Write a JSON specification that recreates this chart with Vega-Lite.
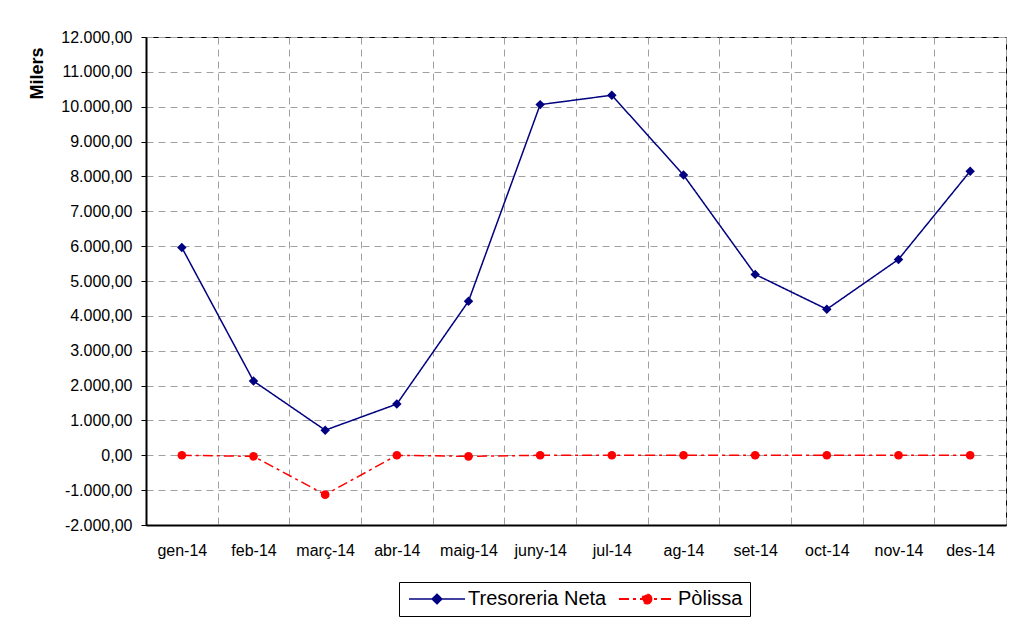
{
  "$schema": "https://vega.github.io/schema/vega-lite/v6.json",
  "width": 860,
  "height": 488,
  "autosize": {"type": "none"},
  "padding": {"left": 146, "top": 37, "right": 28, "bottom": 92},
  "background": "white",
  "config": {
    "font": "Liberation Sans",
    "locale": {"number": {"decimal": ",", "thousands": ".", "grouping": [3], "currency": ["", " €"], "minus": "-"}},
    "view": {"stroke": "#000000", "strokeWidth": 1},
    "axis": {"labelFont": "Liberation Sans", "labelColor": "#000000", "labelFontSize": 16, "gridColor": "#a0a0a0", "gridDash": [7, 5], "gridWidth": 1, "gridOpacity": 1, "domainColor": "#000000", "domainWidth": 2, "tickColor": "#000000"}
  },
  "data": {
    "values": [
      {"mes": "gen-14", "serie": "Tresoreria Neta", "valor": 5960},
      {"mes": "feb-14", "serie": "Tresoreria Neta", "valor": 2130},
      {"mes": "març-14", "serie": "Tresoreria Neta", "valor": 720},
      {"mes": "abr-14", "serie": "Tresoreria Neta", "valor": 1470},
      {"mes": "maig-14", "serie": "Tresoreria Neta", "valor": 4420},
      {"mes": "juny-14", "serie": "Tresoreria Neta", "valor": 10060},
      {"mes": "jul-14", "serie": "Tresoreria Neta", "valor": 10330},
      {"mes": "ag-14", "serie": "Tresoreria Neta", "valor": 8040},
      {"mes": "set-14", "serie": "Tresoreria Neta", "valor": 5190},
      {"mes": "oct-14", "serie": "Tresoreria Neta", "valor": 4190},
      {"mes": "nov-14", "serie": "Tresoreria Neta", "valor": 5620},
      {"mes": "des-14", "serie": "Tresoreria Neta", "valor": 8150},
      {"mes": "gen-14", "serie": "Pòlissa", "valor": 0},
      {"mes": "feb-14", "serie": "Pòlissa", "valor": -30},
      {"mes": "març-14", "serie": "Pòlissa", "valor": -1130},
      {"mes": "abr-14", "serie": "Pòlissa", "valor": 0},
      {"mes": "maig-14", "serie": "Pòlissa", "valor": -30},
      {"mes": "juny-14", "serie": "Pòlissa", "valor": 0},
      {"mes": "jul-14", "serie": "Pòlissa", "valor": 0},
      {"mes": "ag-14", "serie": "Pòlissa", "valor": 0},
      {"mes": "set-14", "serie": "Pòlissa", "valor": 0},
      {"mes": "oct-14", "serie": "Pòlissa", "valor": 0},
      {"mes": "nov-14", "serie": "Pòlissa", "valor": 0},
      {"mes": "des-14", "serie": "Pòlissa", "valor": 0}
    ]
  },
  "encoding": {
    "x": {
      "field": "mes", "type": "nominal", "sort": null,
      "scale": {"type": "band", "paddingInner": 0, "paddingOuter": 0},
      "axis": {"title": null, "labelAngle": 0, "tickBand": "extent", "ticks": false, "labelPadding": 17, "grid": true, "domainWidth": 2}
    },
    "y": {
      "field": "valor", "type": "quantitative",
      "scale": {"domain": [-2000, 12000], "nice": false, "zero": false},
      "axis": {"title": "Milers", "titleFontSize": 18, "titleFontWeight": "bold", "titleColor": "#000000", "titleFont": "Liberation Sans", "titleAnchor": null, "titleX": -109, "titleY": 36, "titleAlign": "center", "titleBaseline": "middle", "values": [-2000, -1000, 0, 1000, 2000, 3000, 4000, 5000, 6000, 7000, 8000, 9000, 10000, 11000, 12000], "format": ",.2f", "tickSize": 5, "labelPadding": 9, "grid": true}
    },
    "color": {
      "field": "serie", "type": "nominal",
      "scale": {"domain": ["Tresoreria Neta", "Pòlissa"], "range": ["#000080", "#ff0000"]},
      "legend": {
        "title": null, "orient": "none", "legendX": 253, "legendY": 545, "direction": "horizontal",
        "fillColor": "#ffffff", "strokeColor": "#000000", "padding": 7,
        "labelFontSize": 20, "labelColor": "#000000", "labelFont": "Liberation Sans", "labelOffset": 21,
        "columnPadding": 7, "symbolSize": 144, "symbolStrokeWidth": 1.5, "symbolOffset": 21,
        "symbolType": "M-4.67,0L4.67,0M0,-0.8L0.8,0L0,0.8L-0.8,0Z",
        "encode": {
          "symbols": {
            "update": {
              "shape": {"signal": "datum.value === 'Pòlissa' ? 'M-4.67,0L4.67,0M0.75,0A0.75,0.75,0,1,1,-0.75,0A0.75,0.75,0,1,1,0.75,0Z' : 'M-4.67,0L4.67,0M0,-0.8L0.8,0L0,0.8L-0.8,0Z'"},
              "fill": {"signal": "datum.value === 'Pòlissa' ? '#ff0000' : '#000080'"},
              "stroke": {"signal": "datum.value === 'Pòlissa' ? '#ff0000' : '#000080'"},
              "strokeDash": {"signal": "datum.value === 'Pòlissa' ? [8,4,3,4] : [1,0]"},
              "strokeWidth": {"signal": "datum.value === 'Pòlissa' ? 2 : 1.5"},
              "opacity": {"value": 1},
              "fillOpacity": {"value": 1}
            }
          }
        }
      }
    }
  },
  "layer": [
    {
      "mark": {"type": "line", "strokeWidth": 1.5},
      "encoding": {
        "strokeDash": {"field": "serie", "type": "nominal", "scale": {"domain": ["Tresoreria Neta", "Pòlissa"], "range": [[1, 0], [10, 4, 3, 4]]}, "legend": null},
        "strokeWidth": {"field": "serie", "type": "nominal", "scale": {"domain": ["Tresoreria Neta", "Pòlissa"], "range": [1.5, 2]}, "legend": null}
      }
    },
    {
      "transform": [{"filter": "datum.serie === 'Tresoreria Neta'"}],
      "mark": {"type": "point", "filled": true, "opacity": 1, "shape": "diamond", "size": 90}
    },
    {
      "transform": [{"filter": "datum.serie === 'Pòlissa'"}],
      "mark": {"type": "point", "filled": true, "opacity": 1, "shape": "circle", "size": 75}
    }
  ]
}
